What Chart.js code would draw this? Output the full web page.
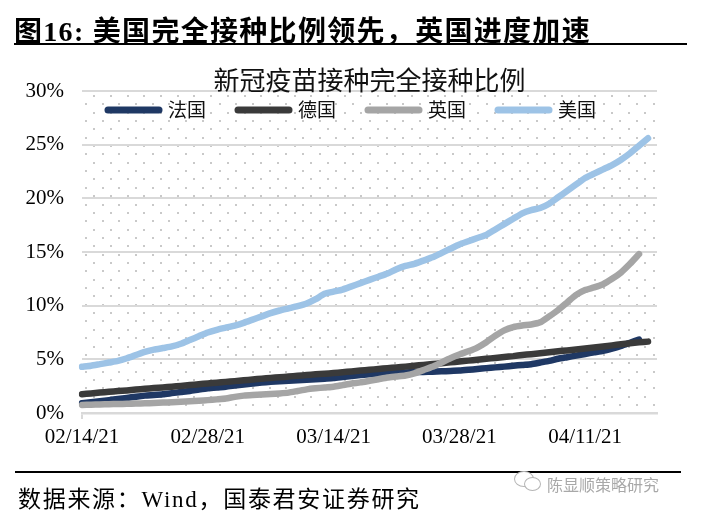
<!DOCTYPE html>
<html>
<head>
<meta charset="utf-8">
<script src="https://cdn.jsdelivr.net/npm/chart.js@4.4.1/dist/chart.umd.min.js"></script>
<style>
  html, body { margin: 0; padding: 0; background: #fff; }
  #wrap { position: relative; width: 702px; height: 520px; overflow: hidden; }
  #chart { position: absolute; left: 0; top: 0; }
  .head { position: absolute; left: 14px; top: 9px; line-height: 34px; font: bold 28px "Liberation Serif", "Noto Sans CJK SC", serif; letter-spacing: 1.3px; color: #000; white-space: nowrap; }
  .rule { position: absolute; left: 14px; width: 673px; background: #000; }
  .src { position: absolute; left: 18px; top: 480px; line-height: 28px; font: 23px "Liberation Serif", "Noto Sans CJK SC", serif; letter-spacing: 1.7px; color: #000; white-space: nowrap; }
  .wm { position: absolute; left: 547px; top: 472px; line-height: 20px; font: 16px "Noto Sans CJK SC", sans-serif; color: #a8a8a8; white-space: nowrap; }
  .bub { position: absolute; border: 1.5px solid #b5b5b5; border-radius: 50%; background: #fff; }
</style>
</head>
<body>
<div id="wrap">
  <canvas id="chart" width="702" height="520"></canvas>
  <div class="head">图16: 美国完全接种比例领先，英国进度加速</div>
  <div class="rule" style="top:43px;height:2px;"></div>
  <div class="rule" style="top:471px;height:1.5px;width:666px;left:15px;"></div>
  <div class="bub" style="left:514px;top:471px;width:18px;height:14px;"></div>
  <div class="bub" style="left:524px;top:477px;width:15px;height:12px;"></div>
  <div class="wm">陈显顺策略研究</div>
  <div class="src">数据来源：Wind，国泰君安证券研究</div>
</div>
<script>
// 日期（02/14/21 - 04/19/21）
const dates = [
  '02/14/21','02/15/21','02/16/21','02/17/21','02/18/21','02/19/21','02/20/21','02/21/21',
  '02/22/21','02/23/21','02/24/21','02/25/21','02/26/21','02/27/21','02/28/21',
  '03/01/21','03/02/21','03/03/21','03/04/21','03/05/21','03/06/21','03/07/21','03/08/21',
  '03/09/21','03/10/21','03/11/21','03/12/21','03/13/21','03/14/21','03/15/21','03/16/21',
  '03/17/21','03/18/21','03/19/21','03/20/21','03/21/21','03/22/21','03/23/21','03/24/21',
  '03/25/21','03/26/21','03/27/21','03/28/21','03/29/21','03/30/21','03/31/21',
  '04/01/21','04/02/21','04/03/21','04/04/21','04/05/21','04/06/21','04/07/21','04/08/21',
  '04/09/21','04/10/21','04/11/21','04/12/21','04/13/21','04/14/21','04/15/21','04/16/21',
  '04/17/21','04/18/21','04/19/21'
];
const xTickLabels = ['02/14/21', '02/28/21', '03/14/21', '03/28/21', '04/11/21'];
const yTicks = [0, 5, 10, 15, 20, 25, 30];

const chartTitle = '新冠疫苗接种完全接种比例';
const seriesNames = ['法国', '德国', '英国', '美国'];

// 完全接种比例 (%)
const france = [
  0.9, 1.0, 1.1, 1.2, 1.3, 1.4, 1.52, 1.62, 1.68, 1.75, 1.85, 1.95, 2.05, 2.18, 2.3,
  2.38, 2.45, 2.55, 2.65, 2.75, 2.85, 2.9, 2.95, 3.0, 3.05, 3.1, 3.15, 3.2, 3.25,
  3.35, 3.45, 3.55, 3.62, 3.68, 3.72, 3.75, 3.78, 3.8, 3.82, 3.85, 3.88, 3.92, 3.95,
  4.02, 4.1, 4.18, 4.25, 4.32, 4.4, 4.48, 4.55, 4.7, 4.85, 5.05, 5.2, 5.35, 5.5,
  5.65, 5.8, 6.0, 6.25, 6.55, 6.85, null, null
];
const germany = [
  1.75, 1.82, 1.9, 1.97, 2.04, 2.1, 2.18, 2.25, 2.32, 2.38, 2.45, 2.52, 2.6, 2.68, 2.75,
  2.82, 2.9, 2.97, 3.05, 3.12, 3.2, 3.27, 3.33, 3.4, 3.47, 3.53, 3.6, 3.65, 3.72,
  3.8, 3.87, 3.95, 4.03, 4.1, 4.18, 4.25, 4.32, 4.4, 4.48, 4.56, 4.64, 4.72, 4.8,
  4.88, 4.96, 5.05, 5.13, 5.22, 5.3, 5.4, 5.48, 5.57, 5.66, 5.75, 5.83, 5.92, 6.0,
  6.1, 6.2, 6.3, 6.4, 6.5, 6.58, 6.65, null
];
const uk = [
  0.75, 0.78, 0.8, 0.82, 0.84, 0.86, 0.88, 0.9, 0.93, 0.97, 1.0, 1.05, 1.1, 1.15, 1.2,
  1.27, 1.35, 1.5, 1.62, 1.68, 1.72, 1.76, 1.82, 1.9, 2.05, 2.2, 2.3, 2.38, 2.45,
  2.6, 2.75, 2.85, 3.0, 3.15, 3.3, 3.4, 3.5, 3.7, 4.0, 4.3, 4.7, 5.1, 5.45,
  5.75, 6.1, 6.6, 7.2, 7.7, 8.0, 8.15, 8.25, 8.45, 9.0, 9.6, 10.3, 11.0, 11.45,
  11.7, 12.0, 12.5, 13.1, 13.9, 14.8, null, null
];
const usa = [
  4.3, 4.4, 4.55, 4.7, 4.85, 5.1, 5.4, 5.7, 5.9, 6.05, 6.2, 6.45, 6.8, 7.15, 7.5,
  7.75, 7.95, 8.15, 8.4, 8.7, 9.0, 9.3, 9.55, 9.75, 9.95, 10.2, 10.6, 11.1, 11.3,
  11.5, 11.8, 12.1, 12.4, 12.7, 13.0, 13.4, 13.7, 13.9, 14.2, 14.5, 14.9, 15.3, 15.7,
  16.0, 16.3, 16.6, 17.1, 17.6, 18.1, 18.6, 18.9, 19.1, 19.5, 20.1, 20.7, 21.3, 21.9,
  22.3, 22.7, 23.1, 23.6, 24.2, 24.9, 25.6, null
];

const colors = ['#1f3864', '#3a3a3a', '#a5a5a5', '#9dc3e6'];

// 背景点阵
const dotFill = {
  id: 'dotFill',
  beforeDraw(chart) {
    const { ctx, chartArea: a } = chart;
    ctx.save();
    ctx.fillStyle = '#c9c9c9';
    let row = 0;
    for (let y = a.top + 4; y < a.bottom - 1; y += 8.35, row++) {
      for (let x = a.left + (row % 2 ? 3 : 11.3); x < a.right - 1; x += 16.7) {
        ctx.fillRect(Math.round(x), Math.round(y), 2, 2);
      }
    }
    ctx.restore();
  }
};

// 图内标题和图例
const headerLegend = {
  id: 'headerLegend',
  afterDraw(chart) {
    const { ctx, chartArea: a } = chart;
    ctx.save();
    ctx.fillStyle = '#111';
    ctx.textBaseline = 'middle';
    ctx.textAlign = 'center';
    ctx.font = '26px "Noto Sans CJK SC"';
    ctx.fillText(chartTitle, (a.left + a.right) / 2, a.top - 11);

    ctx.textAlign = 'left';
    ctx.font = '19px "Noto Sans CJK SC"';
    const y = a.top + 19;
    let x = a.left + 26;
    chart.data.datasets.forEach(ds => {
      ctx.strokeStyle = ds.borderColor;
      ctx.lineWidth = 7;
      ctx.lineCap = 'round';
      ctx.beginPath();
      ctx.moveTo(x, y);
      ctx.lineTo(x + 51, y);
      ctx.stroke();
      ctx.fillText(ds.label, x + 60, y);
      x += 60 + ctx.measureText(ds.label).width + 32;
    });
    ctx.restore();
  }
};

const seriesData = [france, germany, uk, usa];

new Chart(document.getElementById('chart'), {
  type: 'line',
  data: {
    labels: dates,
    datasets: seriesData.map((d, i) => ({
      label: seriesNames[i],
      data: d,
      borderColor: colors[i],
      backgroundColor: colors[i],
      borderWidth: 6.5,
      borderCapStyle: 'round',
      borderJoinStyle: 'round',
      pointRadius: 0,
      tension: 0.2,
      fill: false,
      order: 4 - i
    }))
  },
  options: {
    responsive: false,
    animation: false,
    layout: { padding: { top: 91, right: 45, bottom: 57, left: 0 } },
    plugins: {
      legend: { display: false },
      title: { display: false },
      tooltip: { enabled: false }
    },
    scales: {
      x: {
        offset: false,
        grid: {
          drawOnChartArea: false,
          drawTicks: true,
          tickLength: 6,
          lineWidth: 2,
          color: c => xTickLabels.includes(dates[c.index]) ? '#d9d9d9' : 'rgba(0,0,0,0)'
        },
        border: { display: true, color: '#d9d9d9', width: 2.5 },
        ticks: {
          autoSkip: false,
          maxRotation: 0,
          minRotation: 0,
          padding: 6,
          color: '#000',
          font: { family: 'Liberation Serif', size: 21 },
          callback(value) {
            const lab = this.getLabelForValue(value);
            return xTickLabels.includes(lab) ? lab : null;
          }
        },
        afterFit(s) { s.height = 50; }
      },
      y: {
        min: yTicks[0],
        max: yTicks[yTicks.length - 1],
        grid: { color: '#d9d9d9', lineWidth: 2, drawTicks: false },
        border: { display: false },
        ticks: {
          stepSize: 5,
          padding: 18,
          color: '#000',
          font: { family: 'Liberation Serif', size: 21 },
          callback: v => v + '%'
        },
        afterFit(s) { s.width = 82; }
      }
    }
  },
  plugins: [dotFill, headerLegend]
});
</script>
</body>
</html>
